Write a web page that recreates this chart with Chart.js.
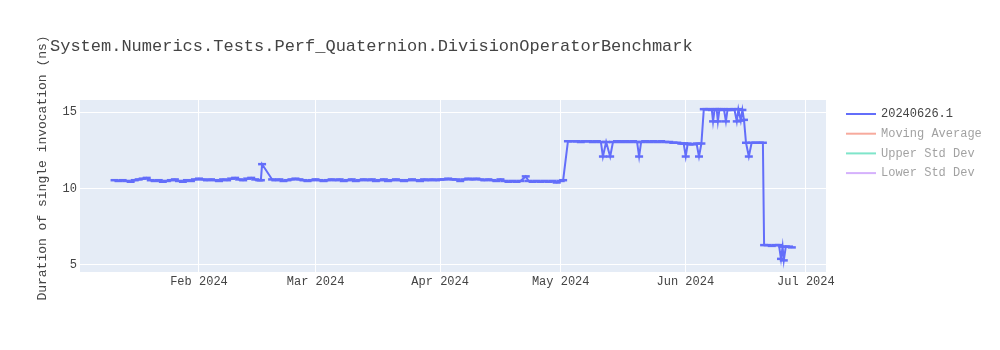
<!DOCTYPE html>
<html>
<head>
<meta charset="utf-8">
<script src="https://cdn.jsdelivr.net/npm/chart.js@4/dist/chart.umd.min.js"></script>
<style>
  body { margin: 0; background: #fff; }
  canvas { display: block; }
</style>
</head>
<body>
<canvas id="chart" width="1000" height="350"></canvas>
<script>
// day offsets since 1 Jan 2024
const days = [
  10, 11, 12, 13, 14, 15, 16, 17, 18, 19, 20, 21, 22, 23, 24, 25, 26, 27, 28, 29,
  30, 31, 32, 33, 34, 35, 36, 37, 38, 39, 40, 41, 42, 43, 44, 45, 46, 46.4, 46.7, 49.2,
  50, 51, 52, 53, 54, 55, 56, 57, 58, 59, 60, 61, 62, 63, 64, 65, 66, 67, 68, 69,
  70, 71, 72, 73, 74, 75, 76, 77, 78, 79, 80, 81, 82, 83, 84, 85, 86, 87, 88, 89,
  90, 91, 92, 93, 94, 95, 96, 97, 98, 99, 100, 101, 102, 103, 104, 105, 106, 107, 108, 109,
  110, 111, 112.3, 113, 114, 115, 116, 117, 118, 119, 120, 121, 121.6,
  122.8, 124, 125, 126, 127, 128, 129, 130, 131, 131.5, 132.3, 133.3, 134, 135, 136, 137, 138, 139, 140, 140.5,
  141, 142, 143, 144, 145, 146, 147, 148, 149, 150, 151, 151.6, 152.1, 152.6, 153, 154, 154.8, 155.4, 156,
  156.6, 157.3, 158, 158.6, 158.9, 159.3, 159.8, 160.1, 160.5, 161, 161.6, 162.1, 162.5, 163, 163.6, 164.2, 164.8, 165.2, 165.8, 166.2, 166.6,
  167.1, 167.8, 168.5, 169.5, 170.5, 171.3,
  171.6, 172.5, 173.5, 174.5, 175.3, 175.8, 176.2, 176.5, 177, 177.8, 178.5
];
const durations = [
  10.55, 10.5, 10.55, 10.5, 10.45, 10.55, 10.6, 10.65, 10.7, 10.55, 10.5, 10.55, 10.45, 10.5, 10.55, 10.6, 10.5, 10.45, 10.55, 10.5,
  10.6, 10.65, 10.6, 10.55, 10.6, 10.55, 10.5, 10.6, 10.55, 10.65, 10.7, 10.6, 10.55, 10.65, 10.7, 10.6, 10.55, 10.55, 11.6, 10.6,
  10.55, 10.6, 10.5, 10.55, 10.6, 10.65, 10.6, 10.55, 10.5, 10.55, 10.6, 10.55, 10.5, 10.55, 10.6, 10.55, 10.6, 10.5, 10.55, 10.6,
  10.5, 10.55, 10.6, 10.55, 10.6, 10.5, 10.55, 10.6, 10.5, 10.55, 10.6, 10.55, 10.5, 10.55, 10.6, 10.55, 10.5, 10.6, 10.55, 10.6,
  10.55, 10.6, 10.6, 10.65, 10.6, 10.6, 10.5, 10.6, 10.65, 10.6, 10.65, 10.6, 10.55, 10.6, 10.55, 10.5, 10.6, 10.5, 10.45, 10.5,
  10.45, 10.5, 10.8, 10.5, 10.45, 10.5, 10.45, 10.5, 10.45, 10.5, 10.4, 10.5, 10.55,
  13.1, 13.1, 13.1, 13.05, 13.1, 13.1, 13.05, 13.1, 13.05, 12.1, 13.05, 12.1, 13.05, 13.1, 13.05, 13.1, 13.05, 13.1, 13.05, 12.1,
  13.05, 13.1, 13.05, 13.1, 13.05, 13.1, 13.05, 13.05, 13.0, 13.0, 12.95, 12.95, 12.1, 12.95, 12.9, 12.9, 12.95, 12.1, 12.95,
  15.2, 15.2, 15.2, 15.15, 14.4, 15.2, 15.2, 14.4, 15.2, 15.15, 15.2, 14.4, 15.15, 15.2, 15.15, 15.2, 14.4, 15.2, 14.45, 15.15, 14.5,
  13.0, 12.1, 13.0, 13.0, 13.0, 13.0,
  6.3, 6.3, 6.25, 6.3, 6.3, 5.4, 6.2, 5.3, 6.2, 6.2, 6.15
];

const monthDays = [31, 60, 91, 121, 152, 182];
const monthLabels = ["Feb 2024", "Mar 2024", "Apr 2024", "May 2024", "Jun 2024", "Jul 2024"];
const yTicks = [5, 10, 15];

const legendNames = ["20240626.1", "Moving Average", "Upper Std Dev", "Lower Std Dev"];
const legendColors = ["#636efa", "rgba(239,85,59,0.5)", "rgba(0,204,150,0.5)", "rgba(171,99,250,0.5)"];
const legendText = ["#444", "rgba(68,68,68,0.5)", "rgba(68,68,68,0.5)", "rgba(68,68,68,0.5)"];

const FONT = "'Liberation Mono', 'Courier New', monospace";

const plotlyLook = {
  id: "plotlyLook",
  beforeDraw(chart) {
    const { ctx, chartArea: a } = chart;
    ctx.save();
    ctx.fillStyle = "#e5ecf6";
    ctx.fillRect(a.left, a.top, a.right - a.left, a.bottom - a.top);
    ctx.restore();
  },
  afterDraw(chart) {
    const { ctx } = chart;
    ctx.save();
    // title
    ctx.fillStyle = "#444";
    ctx.font = "17px " + FONT;
    ctx.textBaseline = "middle";
    ctx.fillText("System.Numerics.Tests.Perf_Quaternion.DivisionOperatorBenchmark", 50, 46);
    // y axis title
    ctx.save();
    ctx.translate(43, 168);
    ctx.rotate(-Math.PI / 2);
    ctx.font = "13px " + FONT;
    ctx.textAlign = "center";
    ctx.fillText("Duration of single invocation (ns)", 0, 0);
    ctx.restore();
    // legend
    ctx.font = "12px " + FONT;
    ctx.lineWidth = 2;
    legendNames.forEach((name, i) => {
      const y = 114 + i * 19.7;
      ctx.strokeStyle = legendColors[i];
      ctx.beginPath();
      ctx.moveTo(846, y);
      ctx.lineTo(876, y);
      ctx.stroke();
      ctx.fillStyle = legendText[i];
      ctx.fillText(name, 881, y);
    });
    ctx.restore();
  }
};

new Chart(document.getElementById("chart"), {
  type: "line",
  data: {
    datasets: [{
      label: legendNames[0],
      data: days.map((d, i) => ({ x: d, y: durations[i] })),
      borderColor: "#636efa",
      backgroundColor: "#636efa",
      borderWidth: 2,
      pointStyle: "line",
      pointRadius: 4,
      pointBorderWidth: 2.5,
      tension: 0
    }]
  },
  options: {
    responsive: false,
    animation: false,
    layout: { padding: { top: 100, right: 174, left: 0, bottom: 0 } },
    plugins: { legend: { display: false }, tooltip: { enabled: false } },
    scales: {
      x: {
        type: "linear",
        min: 1.4,
        max: 187,
        afterBuildTicks(scale) { scale.ticks = monthDays.map(v => ({ value: v })); },
        afterFit(scale) { scale.height = 78; },
        ticks: {
          callback: (v) => monthLabels[monthDays.indexOf(v)] || "",
          color: "#444",
          font: { family: FONT, size: 12 },
          padding: 3,
          maxRotation: 0,
          autoSkip: false
        },
        grid: { color: "#fff", lineWidth: 1, drawTicks: false },
        border: { display: false }
      },
      y: {
        min: 4.54,
        max: 15.8,
        afterBuildTicks(scale) { scale.ticks = yTicks.map(v => ({ value: v })); },
        afterFit(scale) { scale.width = 80; },
        ticks: {
          color: "#444",
          font: { family: FONT, size: 12 },
          padding: 3
        },
        grid: { color: "#fff", lineWidth: 1, drawTicks: false },
        border: { display: false }
      }
    }
  },
  plugins: [plotlyLook]
});
</script>
</body>
</html>
